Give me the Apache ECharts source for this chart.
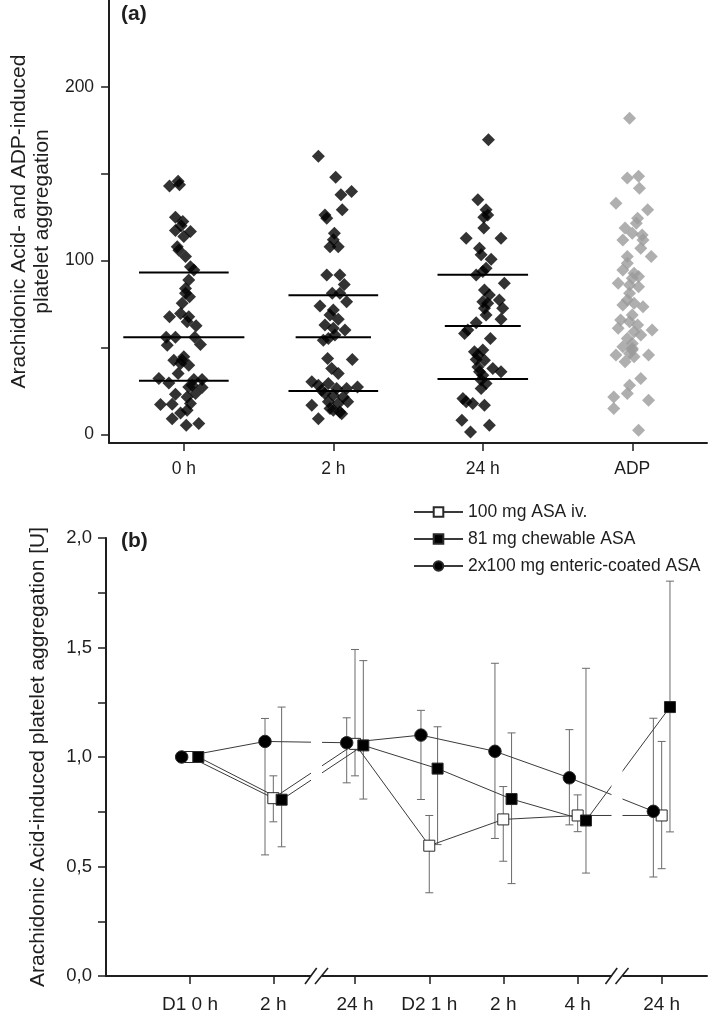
<!DOCTYPE html>
<html><head><meta charset="utf-8">
<script src="https://cdn.jsdelivr.net/npm/echarts@6/dist/echarts.min.js"></script>
<style>html,body{margin:0;padding:0;background:#fff}#c{width:709px;height:1014px}</style>
</head><body><div id="c"></div>
<script>
// ---------- Panel (a) data ----------
const groupLabels = ['0 h', '2 h', '24 h', 'ADP'];
const values0h = [143, 145.6, 143.6, 125, 122.5, 120, 117.3, 116.7, 113.8, 108, 106, 102.3, 96.5, 94.6, 88.8, 84, 81.2, 79.2, 75.4, 69.6, 67.7, 67.7, 64.8, 62.5, 55.8, 55.8, 55.8, 51.3, 51.7, 44.6, 42.7, 42.7, 40.8, 39.8, 35, 32.1, 29.6, 31.5, 31.5, 28.3, 27.3, 26.9, 23.1, 21.5, 23.5, 17.1, 17.3, 17.7, 13.8, 12.3, 9, 5.2, 6.2];
const jitter0h = [-0.096, -0.038, -0.029, -0.056, -0.007, -0.018, -0.056, 0.044, 0, -0.044, -0.033, 0.011, 0.044, 0.067, 0.033, 0.011, 0.011, 0.038, -0.011, -0.022, 0.033, -0.096, 0.022, 0.082, -0.118, -0.056, 0.073, -0.111, 0.111, 0, -0.067, -0.011, -0.022, 0.033, -0.038, -0.167, -0.1, 0.067, 0.122, 0.056, 0.033, 0.122, -0.056, 0.022, 0.078, -0.156, -0.078, 0.044, 0.022, -0.022, -0.078, 0.016, 0.1];
const values2h = [160, 148, 137.9, 139.8, 129.2, 126.3, 124.4, 115.8, 112, 108, 108, 91.7, 91.7, 86.3, 81.2, 81.2, 76.3, 73.8, 71.5, 68.7, 66.2, 62.9, 61, 60, 55.2, 57.1, 54.2, 43.7, 43.1, 37.9, 35, 30.2, 28.3, 29.2, 26.3, 26.3, 27.3, 25.4, 23.5, 22.5, 21.5, 16.7, 18.7, 17.7, 18.7, 14.8, 12.9, 13.8, 11.9, 9];
const jitter2h = [-0.1, 0.016, 0.051, 0.122, 0.06, -0.056, -0.044, 0.007, 0, -0.022, 0.033, -0.044, 0.044, 0.073, -0.007, 0.044, 0.089, -0.089, 0, -0.022, 0.033, -0.056, 0, 0.078, -0.033, 0.011, -0.067, -0.038, 0.127, -0.011, 0.033, -0.144, -0.1, -0.033, 0.022, 0.089, 0.162, -0.078, -0.056, 0, 0.067, -0.144, -0.033, 0.033, 0.096, -0.022, 0.044, 0, 0.056, -0.1];
const values24h = [169.6, 135, 129.2, 125, 126.3, 118.7, 112.9, 112.9, 107.1, 103.3, 100.8, 95.6, 91.7, 93.7, 86.9, 83.1, 80.2, 77.3, 76.3, 75.4, 72.5, 72.5, 68.7, 66.2, 64.2, 60, 58.1, 55.2, 48.5, 47.5, 45.6, 43.1, 42.7, 38.8, 37.9, 36, 36, 34, 31.2, 29.2, 26.3, 20.6, 18.7, 17.7, 16.7, 8.1, 5.2, 1.3];
const jitter24h = [0.038, -0.033, 0.022, 0.007, 0.033, 0.007, -0.111, 0.122, -0.022, -0.011, 0.056, 0.022, -0.044, 0, 0.144, 0.011, 0.044, 0.111, 0, 0.033, 0.133, 0.011, 0.022, 0.122, -0.044, -0.1, -0.122, 0.051, 0, -0.056, -0.033, -0.044, 0.011, -0.033, 0.067, 0.122, -0.022, 0, -0.011, 0.022, -0.011, -0.133, -0.111, -0.067, 0.011, -0.14, 0.044, -0.082];
const valuesADP = [182, 148.5, 147.5, 141.7, 133, 129.2, 124.4, 121.5, 118.7, 115.8, 114.8, 111.9, 111.9, 107.1, 102.3, 102.3, 98.5, 94.6, 92.7, 90.8, 89.8, 86.9, 86, 85, 81.2, 77.3, 75.4, 74.4, 73.5, 68.7, 65.8, 64.8, 62.9, 61, 60, 59, 57.1, 55.2, 52.3, 50.4, 49.4, 48.5, 46.5, 45.6, 45.6, 44.6, 41.7, 32.1, 28.3, 23.5, 21.5, 19.6, 14.8, 2.3];
const jitterADP = [-0.018, 0.042, -0.033, 0.048, -0.109, 0.103, 0.036, 0.027, -0.048, 0, 0.066, -0.063, 0.072, 0.057, 0.127, -0.033, -0.033, -0.063, 0.012, 0.042, 0, -0.094, -0.018, 0.042, -0.018, -0.033, 0.012, -0.063, 0.072, 0, -0.078, -0.018, 0.036, -0.094, 0.133, 0.012, 0.057, -0.033, 0, -0.063, 0, 0, -0.018, -0.109, 0.109, 0.012, -0.048, 0.057, -0.018, -0.033, -0.124, 0.109, -0.124, 0.042];
const quartile1 = [30.8, 25, 31.9];
const medians = [55.8, 55.8, 62.3];
const quartile3 = [93.1, 80, 91.9];
const yTicksA = [0, 50, 100, 150, 200];
const yLabelsA = [0, 100, 200];

// ---------- Panel (b) data ----------
const timeLabels = ['D1 0 h', '2 h', '24 h', 'D2 1 h', '2 h', '4 h', '24 h'];
const timeSlots = [0, 1.123, 2.224, 3.225, 4.222, 5.225, 6.357];   // positions on the broken time axis
const breakSlots = [1.705, 5.755];
const ivMean  = [1.0, 0.812, 1.06, 0.595, 0.715, 0.733, 0.733];
const ivLow   = [null, 0.704, 0.914, 0.38, 0.524, 0.659, 0.49];
const ivHigh  = [null, 0.914, 1.491, 0.733, 0.865, 0.827, 1.071];
const chewMean = [1.0, 0.805, 1.053, 0.947, 0.808, 0.71, 1.228];
const chewLow  = [null, 0.59, 0.808, 0.6, 0.422, 0.47, 0.658];
const chewHigh = [null, 1.228, 1.44, 1.138, 1.11, 1.405, 1.803];
const ecMean = [1.0, 1.071, 1.065, 1.1, 1.026, 0.905, 0.752];
const ecLow  = [null, 0.553, 0.882, 0.806, 0.628, 0.69, 0.452];
const ecHigh = [null, 1.176, 1.179, 1.213, 1.428, 1.125, 1.177];
const seriesNames = ['100 mg ASA iv.', '81 mg chewable ASA', '2x100 mg enteric-coated ASA'];
const yTicksB = [0, 0.25, 0.5, 0.75, 1, 1.25, 1.5, 1.75, 2];
const yLabelsB = [0, 0.5, 1, 1.5, 2];

// ---------- styles ----------
const FONT = 'Liberation Sans, Arial, sans-serif';
const INK = '#1e1e1e';
const quartHalf = [0.3, 0.3, 0.303];
const medHalf = [0.405, 0.252, 0.254];
const offs = { iv: 0, chew: 0.112, ec: -0.112 };

const chart = echarts.init(document.getElementById('c'), null, { renderer: 'canvas' });

function scatterData(g, vals, jit) { return vals.map((v, i) => [g + jit[i], v]); }

const series = [];
[[values0h, jitter0h], [values2h, jitter2h], [values24h, jitter24h]].forEach((p, g) => {
  series.push({ type: 'scatter', xAxisIndex: 0, yAxisIndex: 0, symbol: 'diamond', symbolSize: 13,
    itemStyle: { color: '#000' }, data: scatterData(g, p[0], p[1]), silent: true, z: 2 });
});
series.push({ type: 'scatter', xAxisIndex: 0, yAxisIndex: 0, symbol: 'diamond', symbolSize: 13,
  itemStyle: { color: '#9b9b9b' }, data: scatterData(3, valuesADP, jitterADP), silent: true, z: 2 });

function hLine(g, v, w) {
  return { type: 'line', xAxisIndex: 0, yAxisIndex: 0, showSymbol: false, symbol: 'none', silent: true, z: 3,
    lineStyle: { color: '#000', width: 2 }, data: [[g - w, v], [g + w, v]] };
}
for (let g = 0; g < 3; g++) {
  series.push(hLine(g, quartile1[g], quartHalf[g]));
  series.push(hLine(g, medians[g], medHalf[g]));
  series.push(hLine(g, quartile3[g], quartHalf[g]));
}

function errSeries(low, high, off) {
  const data = [];
  timeSlots.forEach((t, i) => { if (low[i] != null) data.push([t + off, low[i], high[i]]); });
  return { type: 'custom', xAxisIndex: 1, yAxisIndex: 1, silent: true, z: 1, data,
    encode: { x: 0, y: [1, 2] },
    renderItem(params, api) {
      const x = api.value(0);
      const a = api.coord([x, api.value(2)]);
      const b = api.coord([x, api.value(1)]);
      const cw = 4, st = { stroke: '#6a6a6a', lineWidth: 1 };
      return { type: 'group', children: [
        { type: 'line', shape: { x1: a[0], y1: a[1], x2: b[0], y2: b[1] }, style: st },
        { type: 'line', shape: { x1: a[0] - cw, y1: a[1], x2: a[0] + cw, y2: a[1] }, style: st },
        { type: 'line', shape: { x1: b[0] - cw, y1: b[1], x2: b[0] + cw, y2: b[1] }, style: st }
      ] };
    } };
}
series.push(errSeries(ivLow, ivHigh, offs.iv));
series.push(errSeries(chewLow, chewHigh, offs.chew));
series.push(errSeries(ecLow, ecHigh, offs.ec));

function meanSeries(name, mean, off, symbol, size, fill) {
  return { type: 'line', name, xAxisIndex: 1, yAxisIndex: 1, symbol, symbolSize: size, showSymbol: true,
    silent: true, z: 3,
    lineStyle: { color: '#3a3a3a', width: 1 },
    itemStyle: { color: fill, borderColor: '#2a2a2a', borderWidth: 1, opacity: 1 },
    data: timeSlots.map((t, i) => [t + off, mean[i]]) };
}
series.push(meanSeries(seriesNames[0], ivMean, offs.iv, 'rect', 11, '#fff'));
series.push(meanSeries(seriesNames[1], chewMean, offs.chew, 'rect', 11, '#000'));
series.push(meanSeries(seriesNames[2], ecMean, offs.ec, 'circle', 12.5, '#000'));

// axis-break marks (mask only the lower band where the connecting lines run)
series.push({ type: 'custom', xAxisIndex: 1, yAxisIndex: 1, silent: true, z: 20,
  data: breakSlots.map(b => [b, 0]),
  renderItem(params, api) {
    const p = api.coord([api.value(0), 0]);
    const topY = api.coord([api.value(0), 1.4])[1];
    const st = { stroke: INK, lineWidth: 1.6 };
    return { type: 'group', children: [
      { type: 'rect', shape: { x: p[0] - 5.5, y: topY, width: 11, height: p[1] - topY + 3 }, style: { fill: '#fff' } },
      { type: 'line', shape: { x1: p[0] - 11.5, y1: p[1] + 8, x2: p[0] + 0.2, y2: p[1] - 8 }, style: st },
      { type: 'line', shape: { x1: p[0] - 1.5, y1: p[1] + 8, x2: p[0] + 11.5, y2: p[1] - 8 }, style: st }
    ] };
  } });

function labelAt(arr, labels) {
  return v => { const i = arr.findIndex(t => Math.abs(t - v) < 1e-6); return i >= 0 ? labels[i] : ''; };
}

const axisLineA = { show: true, onZero: false, lineStyle: { color: INK, width: 2 } };
const option = {
  animation: false,
  backgroundColor: '#fff',
  textStyle: { fontFamily: FONT },
  title: [
    { text: '(a)', left: 121, top: 4, padding: 0, textStyle: { fontFamily: FONT, fontSize: 21, fontWeight: 'bold', color: INK } },
    { text: '(b)', left: 121, top: 531, padding: 0, textStyle: { fontFamily: FONT, fontSize: 21, fontWeight: 'bold', color: INK } }
  ],
  legend: {
    data: seriesNames, orient: 'vertical', left: 413, top: 502, padding: 0,
    itemWidth: 49, itemHeight: 12, itemGap: 7, selectedMode: false,
    textStyle: { fontFamily: FONT, fontSize: 17.5, color: INK, lineHeight: 20 }
  },
  grid: [
    { left: 106, right: 2, top: 0, height: 443, containLabel: false },
    { left: 106, right: 2, top: 538, height: 444, containLabel: false }
  ],
  xAxis: [
    { type: 'value', gridIndex: 0, min: -0.5, max: 3.5,
      axisLine: axisLineA,
      axisTick: { show: true, customValues: [0, 1, 2, 3], length: 8, lineStyle: { color: INK, width: 1.5 } },
      axisLabel: { customValues: [0, 1, 2, 3], formatter: labelAt([0, 1, 2, 3], groupLabels), margin: 17,
        fontFamily: FONT, fontSize: 17.5, color: INK },
      splitLine: { show: false } },
    { type: 'value', gridIndex: 1, min: -1.132, max: 6.968,
      axisLine: axisLineA,
      axisTick: { show: true, customValues: timeSlots, length: 8, lineStyle: { color: INK, width: 1.5 } },
      axisLabel: { customValues: timeSlots, formatter: labelAt(timeSlots, timeLabels), margin: 19,
        fontFamily: FONT, fontSize: 19, color: INK },
      splitLine: { show: false } }
  ],
  yAxis: [
    { type: 'value', gridIndex: 0, min: -5, max: 250,
      axisLine: axisLineA,
      axisTick: { show: true, customValues: yTicksA, length: 8, lineStyle: { color: INK, width: 1.5 } },
      axisLabel: { customValues: yLabelsA, margin: 15, fontFamily: FONT, fontSize: 17.5, color: INK },
      splitLine: { show: false },
      name: 'Arachidonic Acid- and ADP-induced\nplatelet aggregation', nameLocation: 'middle', nameGap: 50,
      nameTextStyle: { fontFamily: FONT, fontSize: 21, color: INK, lineHeight: 23 } },
    { type: 'value', gridIndex: 1, min: 0, max: 2,
      axisLine: axisLineA,
      axisTick: { show: true, customValues: yTicksB, length: 8, lineStyle: { color: INK, width: 1.5 } },
      axisLabel: { customValues: yLabelsB, margin: 14, fontFamily: FONT, fontSize: 18.5, color: INK,
        formatter: v => v.toFixed(1).replace('.', ',') },
      splitLine: { show: false },
      name: 'Arachidonic Acid-induced platelet aggregation [U]', nameLocation: 'middle', nameGap: 57,
      nameTextStyle: { fontFamily: FONT, fontSize: 21, color: INK } }
  ],
  series
};
chart.setOption(option);
</script></body></html>
